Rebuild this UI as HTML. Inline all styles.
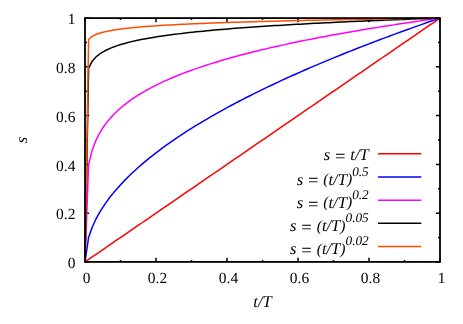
<!DOCTYPE html>
<html><head><meta charset="utf-8"><title>plot</title>
<style>html,body{margin:0;padding:0;background:#fff;}svg{will-change:transform;display:block;position:absolute;left:0;top:0;}text{text-rendering:geometricPrecision;font-family:"Liberation Serif",serif;fill:#000;}</style>
</head><body>
<svg width="463" height="324" viewBox="0 0 463 324">
<rect x="0" y="0" width="463" height="324" fill="#ffffff"/>
<path d="M85.00 261.90V257.80M85.00 18.10V22.20M85.00 261.90H89.10M440.00 261.90H435.90M120.50 261.90V259.90M120.50 18.10V20.10M85.00 237.52H87.00M440.00 237.52H438.00M156.00 261.90V257.80M156.00 18.10V22.20M85.00 213.14H89.10M440.00 213.14H435.90M191.50 261.90V259.90M191.50 18.10V20.10M85.00 188.76H87.00M440.00 188.76H438.00M227.00 261.90V257.80M227.00 18.10V22.20M85.00 164.38H89.10M440.00 164.38H435.90M262.50 261.90V259.90M262.50 18.10V20.10M85.00 140.00H87.00M440.00 140.00H438.00M298.00 261.90V257.80M298.00 18.10V22.20M85.00 115.62H89.10M440.00 115.62H435.90M333.50 261.90V259.90M333.50 18.10V20.10M85.00 91.24H87.00M440.00 91.24H438.00M369.00 261.90V257.80M369.00 18.10V22.20M85.00 66.86H89.10M440.00 66.86H435.90M404.50 261.90V259.90M404.50 18.10V20.10M85.00 42.48H87.00M440.00 42.48H438.00M440.00 261.90V257.80M440.00 18.10V22.20M85.00 18.10H89.10M440.00 18.10H435.90" stroke="#000" stroke-width="1.5" fill="none"/>
<polyline points="85.00,261.90 88.59,259.44 92.17,256.97 95.76,254.51 99.34,252.05 102.93,249.59 106.52,247.12 110.10,244.66 113.69,242.20 117.27,239.74 120.86,237.27 124.44,234.81 128.03,232.35 131.62,229.89 135.20,227.42 138.79,224.96 142.37,222.50 145.96,220.04 149.55,217.57 153.13,215.11 156.72,212.65 160.30,210.18 163.89,207.72 167.47,205.26 171.06,202.80 174.65,200.33 178.23,197.87 181.82,195.41 185.40,192.95 188.99,190.48 192.58,188.02 196.16,185.56 199.75,183.10 203.33,180.63 206.92,178.17 210.51,175.71 214.09,173.25 217.68,170.78 221.26,168.32 224.85,165.86 228.43,163.39 232.02,160.93 235.61,158.47 239.19,156.01 242.78,153.54 246.36,151.08 249.95,148.62 253.54,146.16 257.12,143.69 260.71,141.23 264.29,138.77 267.88,136.31 271.46,133.84 275.05,131.38 278.64,128.92 282.22,126.46 285.81,123.99 289.39,121.53 292.98,119.07 296.57,116.61 300.15,114.14 303.74,111.68 307.32,109.22 310.91,106.75 314.49,104.29 318.08,101.83 321.67,99.37 325.25,96.90 328.84,94.44 332.42,91.98 336.01,89.52 339.60,87.05 343.18,84.59 346.77,82.13 350.35,79.67 353.94,77.20 357.53,74.74 361.11,72.28 364.70,69.82 368.28,67.35 371.87,64.89 375.45,62.43 379.04,59.96 382.63,57.50 386.21,55.04 389.80,52.58 393.38,50.11 396.97,47.65 400.56,45.19 404.14,42.73 407.73,40.26 411.31,37.80 414.90,35.34 418.48,32.88 422.07,30.41 425.66,27.95 429.24,25.49 432.83,23.03 436.41,20.56 440.00,18.10" stroke="#ff0000" stroke-width="1.5" fill="none" stroke-linejoin="round" stroke-linecap="butt"/>
<polyline points="85.00,261.90 88.59,237.40 92.17,227.25 95.76,219.46 99.34,212.89 102.93,207.11 106.52,201.88 110.10,197.07 113.69,192.60 117.27,188.39 120.86,184.42 124.44,180.63 128.03,177.02 131.62,173.55 135.20,170.22 138.79,167.00 142.37,163.89 145.96,160.87 149.55,157.94 153.13,155.09 156.72,152.32 160.30,149.61 163.89,146.97 167.47,144.39 171.06,141.86 174.65,139.39 178.23,136.96 181.82,134.58 185.40,132.24 188.99,129.95 192.58,127.69 196.16,125.47 199.75,123.29 203.33,121.14 206.92,119.03 210.51,116.94 214.09,114.88 217.68,112.86 221.26,110.85 224.85,108.88 228.43,106.93 232.02,105.01 235.61,103.10 239.19,101.22 242.78,99.37 246.36,97.53 249.95,95.71 253.54,93.92 257.12,92.14 260.71,90.38 264.29,88.64 267.88,86.91 271.46,85.21 275.05,83.52 278.64,81.84 282.22,80.18 285.81,78.54 289.39,76.91 292.98,75.29 296.57,73.69 300.15,72.10 303.74,70.53 307.32,68.96 310.91,67.41 314.49,65.88 318.08,64.35 321.67,62.84 325.25,61.34 328.84,59.84 332.42,58.36 336.01,56.89 339.60,55.44 343.18,53.99 346.77,52.55 350.35,51.12 353.94,49.70 357.53,48.29 361.11,46.89 364.70,45.50 368.28,44.11 371.87,42.74 375.45,41.37 379.04,40.02 382.63,38.67 386.21,37.33 389.80,36.00 393.38,34.67 396.97,33.35 400.56,32.04 404.14,30.74 407.73,29.45 411.31,28.16 414.90,26.88 418.48,25.60 422.07,24.34 425.66,23.08 429.24,21.82 432.83,20.58 436.41,19.33 440.00,18.10" stroke="#0000ff" stroke-width="1.5" fill="none" stroke-linejoin="round" stroke-linecap="butt"/>
<polyline points="85.00,261.90 88.59,164.65 92.17,150.18 95.76,140.75 99.34,133.57 102.93,127.72 106.52,122.73 110.10,118.38 113.69,114.49 117.27,110.98 120.86,107.76 124.44,104.80 128.03,102.04 131.62,99.46 135.20,97.03 138.79,94.74 142.37,92.57 145.96,90.51 149.55,88.54 153.13,86.65 156.72,84.84 160.30,83.11 163.89,81.44 167.47,79.82 171.06,78.27 174.65,76.76 178.23,75.30 181.82,73.89 185.40,72.52 188.99,71.18 192.58,69.89 196.16,68.62 199.75,67.39 203.33,66.19 206.92,65.02 210.51,63.87 214.09,62.76 217.68,61.66 221.26,60.59 224.85,59.54 228.43,58.52 232.02,57.51 235.61,56.52 239.19,55.55 242.78,54.60 246.36,53.67 249.95,52.75 253.54,51.85 257.12,50.96 260.71,50.09 264.29,49.23 267.88,48.39 271.46,47.56 275.05,46.74 278.64,45.93 282.22,45.14 285.81,44.36 289.39,43.59 292.98,42.83 296.57,42.08 300.15,41.33 303.74,40.60 307.32,39.88 310.91,39.17 314.49,38.47 318.08,37.78 321.67,37.09 325.25,36.41 328.84,35.74 332.42,35.08 336.01,34.43 339.60,33.78 343.18,33.14 346.77,32.51 350.35,31.89 353.94,31.27 357.53,30.66 361.11,30.05 364.70,29.45 368.28,28.86 371.87,28.27 375.45,27.69 379.04,27.12 382.63,26.55 386.21,25.98 389.80,25.42 393.38,24.87 396.97,24.32 400.56,23.78 404.14,23.24 407.73,22.70 411.31,22.17 414.90,21.65 418.48,21.13 422.07,20.61 425.66,20.10 429.24,19.60 432.83,19.09 436.41,18.59 440.00,18.10" stroke="#ff00ff" stroke-width="1.5" fill="none" stroke-linejoin="round" stroke-linecap="butt"/>
<polyline points="85.00,261.90 88.59,68.15 92.17,61.31 95.76,57.20 99.34,54.24 102.93,51.91 106.52,49.99 110.10,48.35 113.69,46.92 117.27,45.65 120.86,44.50 124.44,43.47 128.03,42.51 131.62,41.63 135.20,40.82 138.79,40.05 142.37,39.33 145.96,38.66 149.55,38.02 153.13,37.41 156.72,36.84 160.30,36.29 163.89,35.76 167.47,35.26 171.06,34.78 174.65,34.31 178.23,33.87 181.82,33.43 185.40,33.02 188.99,32.62 192.58,32.23 196.16,31.85 199.75,31.49 203.33,31.13 206.92,30.79 210.51,30.45 214.09,30.12 217.68,29.81 221.26,29.50 224.85,29.20 228.43,28.90 232.02,28.61 235.61,28.33 239.19,28.06 242.78,27.79 246.36,27.52 249.95,27.27 253.54,27.01 257.12,26.77 260.71,26.52 264.29,26.29 267.88,26.05 271.46,25.82 275.05,25.60 278.64,25.38 282.22,25.16 285.81,24.95 289.39,24.74 292.98,24.53 296.57,24.33 300.15,24.13 303.74,23.93 307.32,23.74 310.91,23.55 314.49,23.36 318.08,23.18 321.67,22.99 325.25,22.81 328.84,22.64 332.42,22.46 336.01,22.29 339.60,22.12 343.18,21.95 346.77,21.79 350.35,21.62 353.94,21.46 357.53,21.30 361.11,21.14 364.70,20.99 368.28,20.84 371.87,20.68 375.45,20.53 379.04,20.39 382.63,20.24 386.21,20.09 389.80,19.95 393.38,19.81 396.97,19.67 400.56,19.53 404.14,19.39 407.73,19.26 411.31,19.12 414.90,18.99 418.48,18.86 422.07,18.73 425.66,18.60 429.24,18.47 432.83,18.35 436.41,18.22 440.00,18.10" stroke="#000000" stroke-width="1.5" fill="none" stroke-linejoin="round" stroke-linecap="butt"/>
<polyline points="85.00,261.90 88.59,39.51 92.17,36.40 95.76,34.57 99.34,33.25 102.93,32.23 106.52,31.39 110.10,30.68 113.69,30.06 117.27,29.52 120.86,29.03 124.44,28.58 128.03,28.18 131.62,27.80 135.20,27.45 138.79,27.13 142.37,26.83 145.96,26.54 149.55,26.27 153.13,26.02 156.72,25.78 160.30,25.54 163.89,25.32 167.47,25.11 171.06,24.91 174.65,24.72 178.23,24.53 181.82,24.35 185.40,24.18 188.99,24.01 192.58,23.85 196.16,23.70 199.75,23.55 203.33,23.40 206.92,23.26 210.51,23.12 214.09,22.98 217.68,22.85 221.26,22.72 224.85,22.60 228.43,22.48 232.02,22.36 235.61,22.25 239.19,22.13 242.78,22.02 246.36,21.91 249.95,21.81 253.54,21.71 257.12,21.60 260.71,21.51 264.29,21.41 267.88,21.31 271.46,21.22 275.05,21.13 278.64,21.04 282.22,20.95 285.81,20.86 289.39,20.78 292.98,20.69 296.57,20.61 300.15,20.53 303.74,20.45 307.32,20.37 310.91,20.29 314.49,20.22 318.08,20.14 321.67,20.07 325.25,20.00 328.84,19.92 332.42,19.85 336.01,19.78 339.60,19.72 343.18,19.65 346.77,19.58 350.35,19.52 353.94,19.45 357.53,19.39 361.11,19.32 364.70,19.26 368.28,19.20 371.87,19.14 375.45,19.08 379.04,19.02 382.63,18.96 386.21,18.90 389.80,18.84 393.38,18.79 396.97,18.73 400.56,18.67 404.14,18.62 407.73,18.56 411.31,18.51 414.90,18.46 418.48,18.40 422.07,18.35 425.66,18.30 429.24,18.25 432.83,18.20 436.41,18.15 440.00,18.10" stroke="#ff4d00" stroke-width="1.5" fill="none" stroke-linejoin="round" stroke-linecap="butt"/>
<rect x="85.0" y="18.1" width="355.0" height="243.79999999999998" fill="none" stroke="#000" stroke-width="1.8"/>
<text x="75.4" y="268.20" font-size="15.43" text-anchor="end">0</text>
<text x="86.50" y="283.2" font-size="15.43" text-anchor="middle">0</text>
<text x="75.4" y="219.44" font-size="15.43" text-anchor="end">0.2</text>
<text x="157.50" y="283.2" font-size="15.43" text-anchor="middle">0.2</text>
<text x="75.4" y="170.68" font-size="15.43" text-anchor="end">0.4</text>
<text x="228.50" y="283.2" font-size="15.43" text-anchor="middle">0.4</text>
<text x="75.4" y="121.92" font-size="15.43" text-anchor="end">0.6</text>
<text x="299.50" y="283.2" font-size="15.43" text-anchor="middle">0.6</text>
<text x="75.4" y="73.16" font-size="15.43" text-anchor="end">0.8</text>
<text x="370.50" y="283.2" font-size="15.43" text-anchor="middle">0.8</text>
<text x="75.4" y="24.40" font-size="15.43" text-anchor="end">1</text>
<text x="441.50" y="283.2" font-size="15.43" text-anchor="middle">1</text>
<text x="262.6" y="306.7" font-size="16.6" font-style="italic" text-anchor="middle">t/T</text>
<text transform="translate(27.2,140) rotate(-90)" font-size="16.6" font-style="italic" text-anchor="middle">s</text>
<line x1="378" y1="153.85" x2="421.3" y2="153.85" stroke="#ff0000" stroke-width="1.5"/>
<text x="368.75" y="159.65" font-size="16.6" font-style="italic" text-anchor="end">s <tspan font-size="18.0" dx="-0.3" dy="1.9" stroke="#000" stroke-width="0.15">=</tspan><tspan dy="-1.9"> t/T</tspan></text>
<line x1="378" y1="177.02" x2="421.3" y2="177.02" stroke="#0000ff" stroke-width="1.5"/>
<text x="368.75" y="184.57" font-size="16.6" font-style="italic" text-anchor="end">s <tspan font-size="18.0" dx="-0.3" dy="1.9" stroke="#000" stroke-width="0.15">=</tspan><tspan dy="-1.9"> <tspan font-size="15.6" dy="-0.3">(</tspan><tspan dy="0.3">t/T</tspan><tspan font-size="15.6" dy="-0.3">)</tspan></tspan><tspan dy="-8.4" font-size="13.28">0.5</tspan></text>
<line x1="378" y1="200.17" x2="421.3" y2="200.17" stroke="#ff00ff" stroke-width="1.5"/>
<text x="368.75" y="207.72" font-size="16.6" font-style="italic" text-anchor="end">s <tspan font-size="18.0" dx="-0.3" dy="1.9" stroke="#000" stroke-width="0.15">=</tspan><tspan dy="-1.9"> <tspan font-size="15.6" dy="-0.3">(</tspan><tspan dy="0.3">t/T</tspan><tspan font-size="15.6" dy="-0.3">)</tspan></tspan><tspan dy="-8.4" font-size="13.28">0.2</tspan></text>
<line x1="378" y1="223.3" x2="421.3" y2="223.3" stroke="#000000" stroke-width="1.5"/>
<text x="368.75" y="230.85" font-size="16.6" font-style="italic" text-anchor="end">s <tspan font-size="18.0" dx="-0.3" dy="1.9" stroke="#000" stroke-width="0.15">=</tspan><tspan dy="-1.9"> <tspan font-size="15.6" dy="-0.3">(</tspan><tspan dy="0.3">t/T</tspan><tspan font-size="15.6" dy="-0.3">)</tspan></tspan><tspan dy="-8.4" font-size="13.28">0.05</tspan></text>
<line x1="378" y1="246.5" x2="421.3" y2="246.5" stroke="#ff4d00" stroke-width="1.5"/>
<text x="368.75" y="254.05" font-size="16.6" font-style="italic" text-anchor="end">s <tspan font-size="18.0" dx="-0.3" dy="1.9" stroke="#000" stroke-width="0.15">=</tspan><tspan dy="-1.9"> <tspan font-size="15.6" dy="-0.3">(</tspan><tspan dy="0.3">t/T</tspan><tspan font-size="15.6" dy="-0.3">)</tspan></tspan><tspan dy="-8.4" font-size="13.28">0.02</tspan></text>
</svg></body></html>
